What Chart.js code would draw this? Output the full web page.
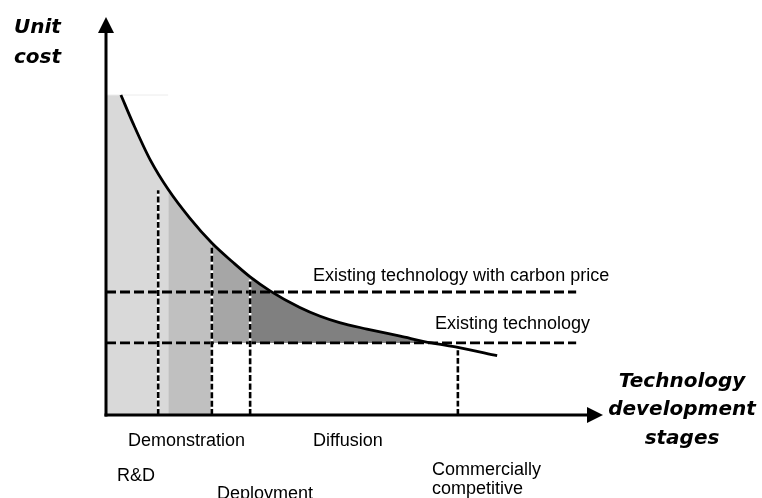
<!DOCTYPE html>
<html>
<head>
<meta charset="utf-8">
<script src="https://cdn.jsdelivr.net/npm/chart.js@4.4.1/dist/chart.umd.min.js"></script>
<style>
  html, body { margin: 0; padding: 0; background: #ffffff; }
  #wrap { width: 762px; height: 498px; position: relative; overflow: hidden; }
</style>
</head>
<body>
<div id="wrap"><canvas id="c" width="762" height="498"></canvas></div>
<script>
// ---- data (x: technology development progress 0-100, y: unit cost 0-100) ----
const curveX = [3.0, 5.4, 8.9, 12.5, 16.9, 21.3, 25.6, 29.0, 33.0, 39.0, 43.1, 47.0, 52.5, 59.2, 65.5, 70.8, 78.7];
const curveY = [80.4, 73.4, 64.1, 56.7, 49.4, 43.2, 38.3, 34.7, 31.2, 27.0, 24.8, 23.2, 21.6, 19.8, 18.1, 17.0, 14.9];
const stageBounds = [12.5, 21.3, 29.0, 65.5];
const stageColors = ['#d9d9d9', '#c0c0c0', '#a6a6a6', '#808080'];
const carbonPriceCost = 30.9;
const existingCost = 18.1;
const refLineEnd = 94.6;
const markerX = [10.5, 21.3, 29.0, 70.8];
const markerTop = [56.5, 42.0, 34.0, 16.3];
const stageLabels = ['Demonstration', 'Diffusion', 'R&D', 'Deployment', 'Commercially', 'competitive'];
const refLabels = ['Existing technology with carbon price', 'Existing technology'];
const axisTitleY = ['Unit', 'cost'];
const axisTitleX = ['Technology', 'development', 'stages'];

const curve = curveX.map((x, i) => ({ x, y: curveY[i] }));
const seg = (a, b) => curve.filter(p => p.x >= a - 1e-9 && p.x <= b + 1e-9);

const datasets = [];
// shaded stage regions
datasets.push({ data: [{ x: 0, y: curveY[0] }, ...seg(0, stageBounds[0])], backgroundColor: stageColors[0], fill: 'origin', borderWidth: 0, order: 10 });
datasets.push({ data: seg(stageBounds[0], stageBounds[1]), backgroundColor: stageColors[1], fill: 'origin', borderWidth: 0, order: 10 });
datasets.push({ data: seg(stageBounds[1], stageBounds[2]), backgroundColor: stageColors[2], fill: { value: existingCost }, borderWidth: 0, order: 10 });
datasets.push({ data: seg(stageBounds[2], stageBounds[3]), backgroundColor: stageColors[3], fill: { value: existingCost }, borderWidth: 0, order: 10 });
// faint top edge
datasets.push({ data: [{ x: 0, y: curveY[0] }, { x: stageBounds[0], y: curveY[0] }], borderColor: '#ececec', borderWidth: 1, fill: false, order: 9 });
// horizontal reference lines
[carbonPriceCost, existingCost].forEach(v => {
  datasets.push({ data: [{ x: 0, y: v }, { x: refLineEnd, y: v }], borderColor: '#000', borderWidth: 2.8, borderDash: [10, 4], fill: false, order: 5 });
});
// vertical stage markers
markerX.forEach((x, i) => {
  datasets.push({ data: [{ x, y: 0 }, { x, y: markerTop[i] }], borderColor: '#ffffff', borderWidth: 2.6, fill: false, order: 4 });
  datasets.push({ data: [{ x, y: 0 }, { x, y: markerTop[i] }], borderColor: '#000', borderWidth: 2.6, borderDash: [6, 2.5], fill: false, order: 3 });
});
// cost curve
datasets.push({ data: curve, borderColor: '#000', borderWidth: 2.8, fill: false, order: 1 });

const decor = {
  id: 'decor',
  afterDraw(chart) {
    const ctx = chart.ctx;
    const a = chart.chartArea;
    ctx.save();
    ctx.fillStyle = '#000';
    ctx.strokeStyle = '#000';
    ctx.lineWidth = 3;
    // y axis
    ctx.beginPath(); ctx.moveTo(a.left, a.bottom + 1.5); ctx.lineTo(a.left, a.top + 12); ctx.stroke();
    ctx.beginPath(); ctx.moveTo(a.left, a.top); ctx.lineTo(a.left - 8, a.top + 16); ctx.lineTo(a.left + 8, a.top + 16); ctx.closePath(); ctx.fill();
    // x axis
    ctx.beginPath(); ctx.moveTo(a.left - 1.5, a.bottom); ctx.lineTo(a.right - 12, a.bottom); ctx.stroke();
    ctx.beginPath(); ctx.moveTo(a.right, a.bottom); ctx.lineTo(a.right - 16, a.bottom - 8); ctx.lineTo(a.right - 16, a.bottom + 8); ctx.closePath(); ctx.fill();

    // axis titles
    ctx.font = "italic bold 20px 'DejaVu Sans'";
    ctx.textBaseline = 'alphabetic';
    ctx.textAlign = 'left';
    ctx.fillText(axisTitleY[0], 14, 33);
    ctx.fillText(axisTitleY[1], 14, 63);
    ctx.textAlign = 'center';
    ctx.fillText(axisTitleX[0], 682, 387);
    ctx.fillText(axisTitleX[1], 682, 415);
    ctx.fillText(axisTitleX[2], 682, 444);

    // labels
    ctx.font = "18px 'Liberation Sans'";
    ctx.textAlign = 'left';
    ctx.fillText(refLabels[0], 313, 281);
    ctx.fillText(refLabels[1], 435, 329);
    ctx.fillText(stageLabels[0], 128, 446);
    ctx.fillText(stageLabels[1], 313, 446);
    ctx.fillText(stageLabels[2], 117, 481);
    ctx.fillText(stageLabels[3], 217, 499);
    ctx.fillText(stageLabels[4], 432, 475);
    ctx.fillText(stageLabels[5], 432, 494);
    ctx.restore();
  }
};

new Chart(document.getElementById('c'), {
  type: 'line',
  data: { datasets },
  options: {
    responsive: false,
    animation: false,
    devicePixelRatio: 1,
    layout: { padding: { left: 106, right: 159, top: 17, bottom: 83 } },
    elements: { point: { radius: 0, hoverRadius: 0 }, line: { cubicInterpolationMode: 'monotone' } },
    plugins: { legend: { display: false }, tooltip: { enabled: false }, title: { display: false } },
    events: [],
    scales: {
      x: { type: 'linear', min: 0, max: 100, display: false },
      y: { type: 'linear', min: 0, max: 100, display: false }
    }
  },
  plugins: [decor]
});
</script>
</body>
</html>
